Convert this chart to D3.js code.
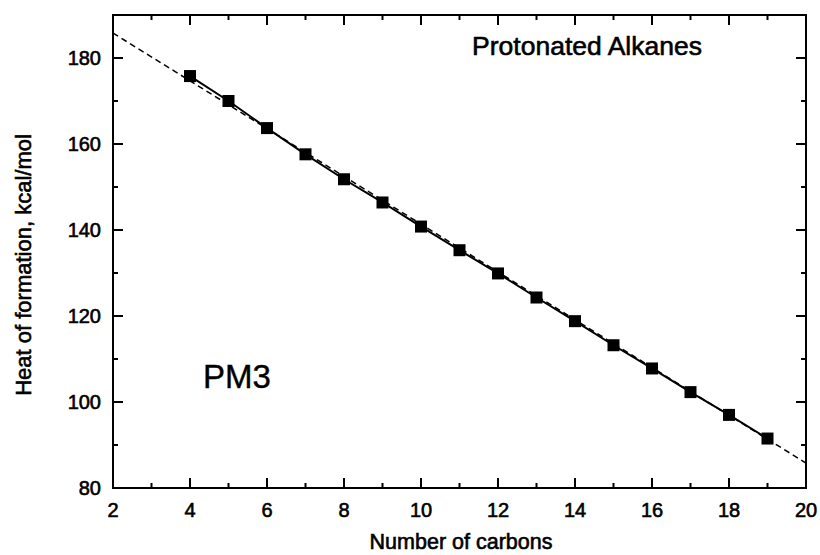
<!DOCTYPE html>
<html><head><meta charset="utf-8">
<script src="https://cdn.jsdelivr.net/npm/d3@7"></script>
<style>body{margin:0;background:#fff}svg{display:block}text{font-family:"Liberation Sans",Arial,sans-serif;fill:#000;stroke:#000;stroke-width:0.6px}</style>
</head><body>
<svg id="c" width="820" height="555"></svg>
<script>
const carbons = [4,5,6,7,8,9,10,11,12,13,14,15,16,17,18,19];
const heatOfFormation = [175.8,170.0,163.7,157.6,151.8,146.4,140.8,135.3,129.9,124.3,118.8,113.2,107.8,102.3,97.0,91.5];
const fitX = [2,20];
const fitY = [185.8,85.8];
const xTicks = [2,4,6,8,10,12,14,16,18,20];
const yTicks = [80,100,120,140,160,180];
const xLabel = "Number of carbons";
const yLabel = "Heat of formation, kcal/mol";
const title = "Protonated Alkanes";
const method = "PM3";

const svg = d3.select("#c");
const L=113,R=806,T=15,B=488;
const x = d3.scaleLinear().domain([2,20]).range([L,R]);
const y = d3.scaleLinear().domain([80,190]).range([B,T]);

const g = svg.append("g");
const xMinor = d3.range(3,20,2), yMinor = d3.range(90,190,20);
function ticks(arr, len, isX){
  arr.forEach(v=>{
    if(isX){
      g.append("line").attr("x1",x(v)).attr("x2",x(v)).attr("y1",B).attr("y2",B-len);
      g.append("line").attr("x1",x(v)).attr("x2",x(v)).attr("y1",T).attr("y2",T+len);
    } else {
      g.append("line").attr("y1",y(v)).attr("y2",y(v)).attr("x1",L).attr("x2",L+len);
      g.append("line").attr("y1",y(v)).attr("y2",y(v)).attr("x1",R).attr("x2",R-len);
    }
  });
}
ticks(xTicks,10,true); ticks(xMinor,5,true);
ticks(yTicks,10,false); ticks(yMinor,5,false);
g.selectAll("line").attr("stroke","#000").attr("stroke-width",2);

svg.append("rect").attr("x",L).attr("y",T).attr("width",R-L).attr("height",B-T)
  .attr("fill","none").attr("stroke","#000").attr("stroke-width",2);

svg.append("g").selectAll("text").data(xTicks).join("text")
  .attr("x",d=>x(d)).attr("y",517).attr("text-anchor","middle")
  .attr("font-size",20).text(d=>d);
svg.append("g").selectAll("text").data(yTicks).join("text")
  .attr("x",101).attr("y",d=>y(d)+7).attr("text-anchor","end")
  .attr("font-size",20).text(d=>d);

const fitData = fitX.map((v,i)=>[v,fitY[i]]);
svg.append("path").datum(fitData)
  .attr("d",d3.line().x(d=>x(d[0])).y(d=>y(d[1])))
  .attr("fill","none").attr("stroke","#000").attr("stroke-width",1.5).attr("stroke-dasharray","6,4");

const pts = carbons.map((c,i)=>[c,heatOfFormation[i]]);
svg.append("path").datum(pts)
  .attr("d",d3.line().x(d=>x(d[0])).y(d=>y(d[1])))
  .attr("fill","none").attr("stroke","#000").attr("stroke-width",2);
const s=12;
svg.append("g").selectAll("rect").data(pts).join("rect")
  .attr("x",d=>x(d[0])-s/2).attr("y",d=>y(d[1])-s/2)
  .attr("width",s).attr("height",s).attr("fill","#000");

svg.append("text").attr("x",461).attr("y",549).attr("text-anchor","middle")
  .attr("font-size",21.5).text(xLabel);
svg.append("text").attr("transform","translate(31,265) rotate(-90)").attr("text-anchor","middle")
  .attr("font-size",22).text(yLabel);
svg.append("text").attr("x",587).attr("y",55).attr("text-anchor","middle")
  .attr("font-size",26.5).text(title);
svg.append("text").attr("x",203).attr("y",388)
  .attr("font-size",33).style("stroke-width","0.4px").text(method);
</script>
</body></html>
